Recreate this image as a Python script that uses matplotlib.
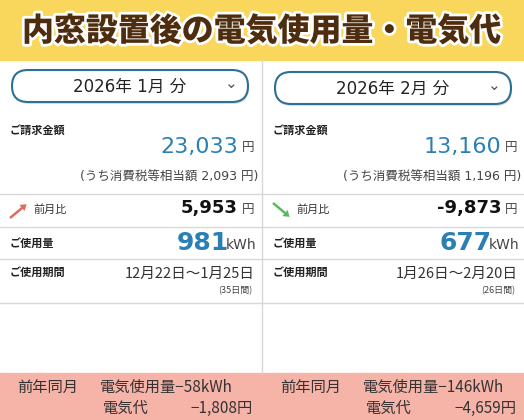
import matplotlib.pyplot as plt
import matplotlib.patheffects as pe
from matplotlib.patches import FancyBboxPatch, Rectangle, FancyArrow

plt.rcParams['font.family'] = ['Noto Sans CJK JP', 'DejaVu Sans']
NUM = ['DejaVu Sans', 'Noto Sans CJK JP']

title = "内窓設置後の電気使用量・電気代"
months = ["2026年 1月 分", "2026年 2月 分"]
bills = ["23,033", "13,160"]
taxes = ["2,093", "1,196"]
diffs = ["5,953", "-9,873"]
usage = ["981", "677"]
periods = ["12月22日〜1月25日", "1月26日〜2月20日"]
days = ["(35日間)", "(26日間)"]
yoy_kwh = ["−58kWh", "−146kWh"]
yoy_yen = ["−1,808円", "−4,659円"]

BLUE = "#2a7fb4"
GREY = "#d8d8d8"

fig = plt.figure(figsize=(5.24, 4.20), dpi=100)
ax = fig.add_axes([0, 0, 1, 1])
ax.set_xlim(0, 524)
ax.set_ylim(420, 0)
ax.axis("off")

# header
ax.add_patch(Rectangle((0, 0), 524, 60, color="#f9d75c", zorder=0))
ax.text(262, 31, title, ha="center", va="center", fontsize=23, fontweight="heavy",
        color="#4e2c0e", path_effects=[pe.withStroke(linewidth=4, foreground="white")])

# bottom band
ax.add_patch(Rectangle((0, 373), 524, 47, color="#f6b3a7", zorder=0))
ax.plot([262, 262], [60, 373], color=GREY, lw=1)

for i in range(2):
    x0 = 0 if i == 0 else 263
    dy = 0 if i == 0 else 2
    # pill with soft shadow
    ax.add_patch(FancyBboxPatch((x0 + 13, 72 + dy), 236, 32, boxstyle="round,pad=0,rounding_size=16",
                                fc="#cccccc", ec="none", alpha=0.6))
    ax.add_patch(FancyBboxPatch((x0 + 12, 70 + dy), 236, 32, boxstyle="round,pad=0,rounding_size=16",
                                fc="white", ec="#2d6f95", lw=1.5))
    ax.text(x0 + 130, 87 + dy, months[i], ha="center", va="center", fontsize=12, color="#222",
            family=NUM)
    ax.text(x0 + 231, 84 + dy, "⌄", ha="center", va="center", fontsize=11, color="#555",
            family=['DejaVu Sans'])

    ax.text(x0 + 10, 130, "ご請求金額", ha="left", va="center", fontsize=8, fontweight="bold", color="#222")
    ax.text(x0 + 238, 147, bills[i], ha="right", va="center", fontsize=16, color=BLUE, family=NUM)
    ax.text(x0 + 248, 148, "円", ha="center", va="center", fontsize=9, color="#444")
    ax.text(x0 + 258, 177, f"(うち消費税等相当額 {taxes[i]} 円)", ha="right", va="center",
            fontsize=9, color="#444", family=NUM)

    for y in (194, 227, 259, 303):
        ax.plot([x0, x0 + 261], [y, y], color=GREY, lw=1)

    if i == 0:
        ax.add_patch(FancyArrow(x0 + 10, 218, 12, -10, width=2.5, head_width=8, head_length=6,
                                color="#e36a5c", lw=0))
    else:
        ax.add_patch(FancyArrow(x0 + 10, 203, 12, 10, width=2.5, head_width=8, head_length=6,
                                color="#5cb85c", lw=0))
    ax.text(x0 + 33, 210, "前月比", ha="left", va="center", fontsize=8, color="#333")
    ax.text(x0 + 238, 208, diffs[i], ha="right", va="center", fontsize=13, fontweight="bold",
            color="#111", family=NUM)
    ax.text(x0 + 248, 209, "円", ha="center", va="center", fontsize=9, color="#444")

    ax.text(x0 + 10, 243, "ご使用量", ha="left", va="center", fontsize=8, fontweight="bold", color="#222")
    ax.text(x0 + 229, 243, usage[i], ha="right", va="center", fontsize=18, fontweight="bold",
            color=BLUE, family=NUM)
    ax.text(x0 + 256, 245, "kWh", ha="right", va="center", fontsize=10, color="#444", family=NUM)

    ax.text(x0 + 10, 272, "ご使用期間", ha="left", va="center", fontsize=8, fontweight="bold", color="#222")
    ax.text(x0 + 255, 274, periods[i], ha="right", va="center", fontsize=10.5, color="#333")
    ax.text(x0 + 252, 291, days[i], ha="right", va="center", fontsize=6.5, color="#444")

    ax.text(x0 + 17, 387, "前年同月", ha="left", va="center", fontsize=11, color="#333")
    ax.text(x0 + 100, 387, "電気使用量" + yoy_kwh[i], ha="left", va="center", fontsize=11, color="#333")
    ax.text(x0 + 103, 408, "電気代", ha="left", va="center", fontsize=11, color="#333")
    ax.text(x0 + 253, 408, yoy_yen[i], ha="right", va="center", fontsize=11, color="#333")

fig.savefig("out.png", dpi=100)
